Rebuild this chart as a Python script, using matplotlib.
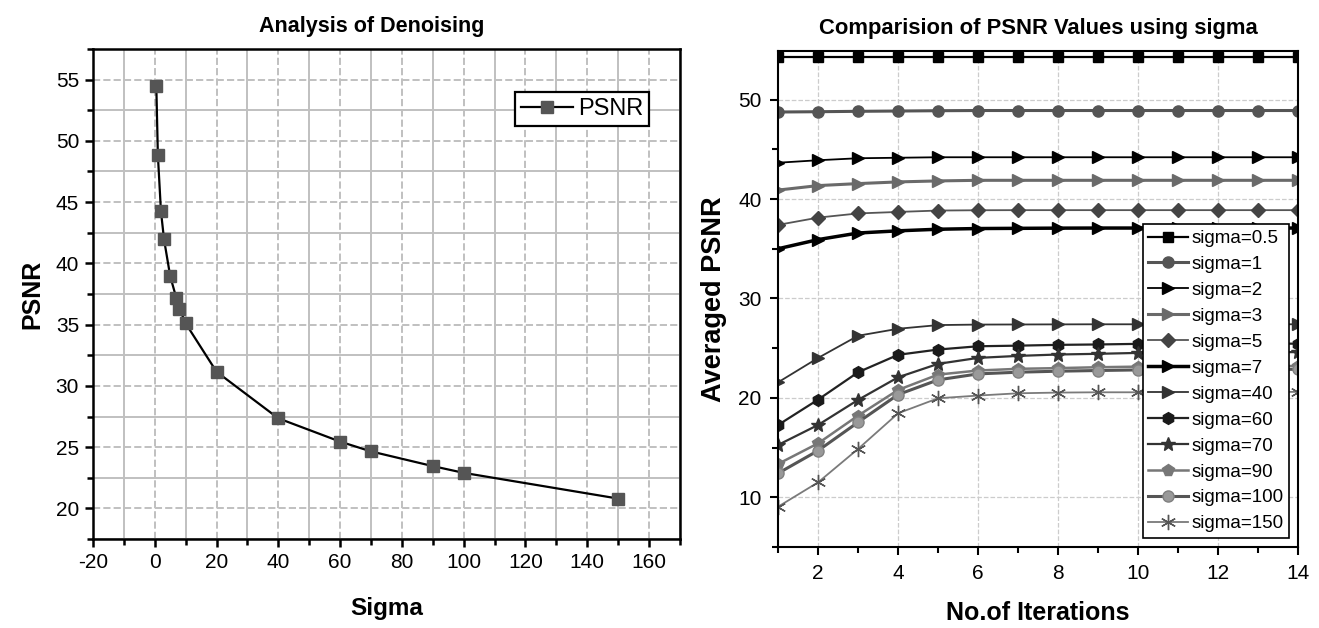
import matplotlib
matplotlib.use("Agg")
import matplotlib.pyplot as plt
from matplotlib.ticker import MultipleLocator
import numpy as np

plt.rcParams['font.family'] = ['Liberation Sans', 'DejaVu Sans']
plt.rcParams['axes.unicode_minus'] = False

# ---------------- data: left chart ----------------
sigma_vals = [0.5, 1, 2, 3, 5, 7, 8, 10, 20, 40, 60, 70, 90, 100, 150]
psnr_vals = [54.45, 48.85, 44.25, 41.95, 38.95, 37.15, 36.3, 35.1,
             31.15, 27.35, 25.45, 24.65, 23.45, 22.9, 20.8]

# ---------------- data: right chart ----------------
iterations = list(range(1, 15))
series_labels = ['sigma=0.5', 'sigma=1', 'sigma=2', 'sigma=3', 'sigma=5', 'sigma=7',
                 'sigma=40', 'sigma=60', 'sigma=70', 'sigma=90', 'sigma=100', 'sigma=150']
s_0_5 = [54.3, 54.3, 54.3, 54.3, 54.3, 54.3, 54.3, 54.3, 54.3, 54.3, 54.3, 54.3, 54.3, 54.3]
s_1 = [48.75, 48.78, 48.82, 48.85, 48.88, 48.9, 48.9, 48.9, 48.9, 48.9, 48.9, 48.9, 48.9, 48.9]
s_2 = [43.65, 43.9, 44.1, 44.15, 44.2, 44.2, 44.2, 44.2, 44.2, 44.2, 44.2, 44.2, 44.2, 44.2]
s_3 = [40.9, 41.35, 41.55, 41.72, 41.82, 41.88, 41.88, 41.88, 41.88, 41.88, 41.88, 41.88, 41.88, 41.88]
s_5 = [37.4, 38.13, 38.55, 38.7, 38.84, 38.87, 38.88, 38.88, 38.88, 38.88, 38.88, 38.88, 38.88, 38.88]
s_7 = [35.0, 35.92, 36.58, 36.8, 36.96, 37.03, 37.05, 37.07, 37.08, 37.08, 37.08, 37.08, 37.08, 37.08]
s_40 = [21.57, 24.02, 26.25, 26.95, 27.32, 27.37, 27.38, 27.39, 27.4, 27.4, 27.4, 27.4, 27.4, 27.4]
s_60 = [17.28, 19.83, 22.58, 24.33, 24.86, 25.19, 25.25, 25.33, 25.37, 25.43, 25.45, 25.45, 25.45, 25.45]
s_70 = [15.27, 17.28, 19.8, 22.07, 23.42, 24.02, 24.22, 24.36, 24.43, 24.52, 24.55, 24.58, 24.6, 24.6]
s_90 = [13.36, 15.43, 18.22, 20.8, 22.34, 22.75, 22.92, 22.99, 23.08, 23.14, 23.16, 23.18, 23.2, 23.2]
s_100 = [12.42, 14.7, 17.55, 20.33, 21.81, 22.41, 22.58, 22.68, 22.75, 22.81, 22.83, 22.85, 22.86, 22.87]
s_150 = [9.06, 11.51, 14.87, 18.45, 19.96, 20.23, 20.46, 20.53, 20.56, 20.56, 20.58, 20.6, 20.6, 20.6]
series_values = [s_0_5, s_1, s_2, s_3, s_5, s_7, s_40, s_60, s_70, s_90, s_100, s_150]

# styles: (line color, line width, marker, marker face, marker edge, marker size)
styles = [
    ('#000000', 1.6, 's', '#000000', '#000000', 7.5),
    ('#555555', 2.2, 'o', '#555555', '#555555', 8),
    ('#000000', 1.3, '>', '#000000', '#000000', 8.5),
    ('#6a6a6a', 2.2, '>', '#6a6a6a', '#6a6a6a', 8.5),
    ('#555555', 1.3, 'D', '#444444', '#444444', 7),
    ('#000000', 2.5, '>', '#000000', '#000000', 9),
    ('#333333', 1.3, '>', '#333333', '#333333', 9),
    ('#222222', 1.6, 'h', '#1a1a1a', '#1a1a1a', 8.5),
    ('#333333', 1.6, '*', '#333333', '#333333', 10),
    ('#777777', 1.8, 'p', '#777777', '#777777', 8.5),
    ('#555555', 2.2, 'o', '#999999', '#808080', 8),
    ('#7a7a7a', 1.3, (6, 2, 0), '#555555', '#555555', 11),
]

fig = plt.figure(figsize=(13.19, 6.28), dpi=100)

# ---------------- left chart ----------------
ax1 = fig.add_axes([0.0705, 0.1417, 0.445, 0.7803])
ax1.plot(sigma_vals, psnr_vals, color='black', lw=1.6, marker='s', markersize=9,
         markerfacecolor='#555555', markeredgecolor='#555555', label='PSNR', zorder=3)
ax1.set_xlim(-20, 170)
ax1.set_ylim(17.5, 57.5)
ax1.xaxis.set_major_locator(MultipleLocator(20))
ax1.xaxis.set_minor_locator(MultipleLocator(10))
ax1.yaxis.set_major_locator(MultipleLocator(5))
ax1.yaxis.set_minor_locator(MultipleLocator(2.5))
ax1.grid(which='major', color='#c0c0c0', linestyle='--', lw=1.4)
ax1.grid(which='minor', color='#c0c0c0', linestyle='-', lw=1.4)
ax1.set_axisbelow(True)
for sp in ax1.spines.values():
    sp.set_linewidth(1.8)
ax1.tick_params(which='major', direction='out', length=6, width=1.8, labelsize=15, pad=4)
ax1.tick_params(which='minor', direction='out', length=4, width=1.8)
ax1.set_title('Analysis of Denoising', fontsize=15.5, fontweight='bold', pad=12, x=0.474)
ax1.set_xlabel('Sigma', fontsize=17.5, fontweight='bold', labelpad=18)
ax1.set_ylabel('PSNR', fontsize=18, fontweight='bold', labelpad=8)
leg1 = ax1.legend(loc='upper right', bbox_to_anchor=(0.947, 0.912), fontsize=17, frameon=True,
                  fancybox=False, edgecolor='black', framealpha=1, handlelength=2.2,
                  borderpad=0.25, handletextpad=0.2, borderaxespad=0)
leg1.get_frame().set_linewidth(1.6)

# ---------------- right chart ----------------
ax2 = fig.add_axes([0.590, 0.129, 0.394, 0.790])
for lab, vals, st in zip(series_labels, series_values, styles):
    c, lw, m, mf, me, ms = st
    ax2.plot(iterations, vals, color=c, lw=lw, marker=m, markersize=ms,
             markerfacecolor=mf, markeredgecolor=me, label=lab)
ax2.set_xlim(1, 14)
ax2.set_ylim(5, 54.9)
ax2.xaxis.set_major_locator(MultipleLocator(2))
ax2.xaxis.set_minor_locator(MultipleLocator(1))
ax2.yaxis.set_major_locator(MultipleLocator(10))
ax2.yaxis.set_minor_locator(MultipleLocator(5))
ax2.grid(which='major', color='#cccccc', linestyle='--', lw=0.9)
ax2.set_axisbelow(True)
for sp in ax2.spines.values():
    sp.set_linewidth(1.5)
ax2.tick_params(which='major', direction='out', length=6, width=1.5, labelsize=15, pad=6)
ax2.tick_params(which='minor', direction='out', length=4, width=1.5)
ax2.set_title('Comparision of PSNR Values using sigma', fontsize=15.8, fontweight='bold', pad=12)
ax2.set_xlabel('No.of Iterations', fontsize=18, fontweight='bold', labelpad=13)
ax2.set_ylabel('Averaged PSNR', fontsize=19.5, fontweight='bold', labelpad=8)
leg2 = ax2.legend(loc='lower right', bbox_to_anchor=(0.983, 0.018), frameon=True,
                  fontsize=13.5,
                  fancybox=False, edgecolor='black', framealpha=1,
                  handlelength=2.1, labelspacing=0.47, borderpad=0.3, handletextpad=0.2,
                  borderaxespad=0)
leg2.get_frame().set_linewidth(1.2)

fig.savefig('out.png', dpi=100)
